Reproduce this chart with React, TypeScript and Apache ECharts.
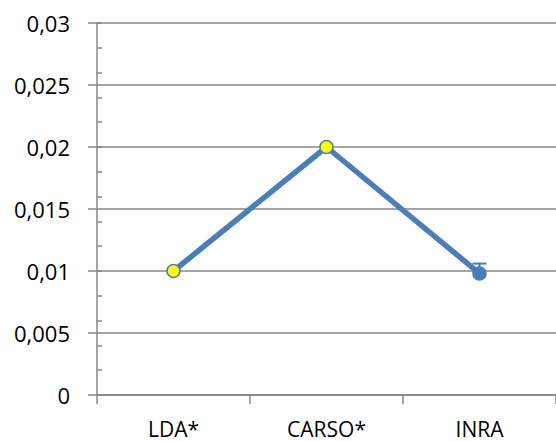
import React, { useEffect, useRef } from "react";
import * as echarts from "echarts";

const categories = ["LDA*", "CARSO*", "INRA"];
const values = [0.01, 0.02, 0.0098];
// upper error bound per lab (null = no error bar)
const upperErrors: (number | null)[] = [null, null, 0.0106];
const markerFills = ["#ffff00", "#ffff00", "#4a7ebb"];

const yMin = 0;
const yMax = 0.03;
const yMajor = 0.005;
const yMinor = 0.002;

const lineColor = "#4a7ebb";
const axisColor = "#878787";
const fontFamily = "'Open Sans', 'Noto Sans', sans-serif";

export default function App() {
  const ref = useRef<HTMLDivElement>(null);

  useEffect(() => {
    document.body.style.margin = "0";
    const chart = echarts.init(ref.current!, undefined, { renderer: "svg" });

    const errorData = upperErrors
      .map((u, i) => (u == null ? null : [i, values[i], u]))
      .filter((d) => d != null);

    chart.setOption({
      animation: false,
      backgroundColor: "#ffffff",
      grid: { left: 97, top: 23, bottom: 46, right: -3, containLabel: false },
      xAxis: {
        type: "category",
        data: categories,
        boundaryGap: true,
        axisLine: { lineStyle: { color: axisColor, width: 1.5 } },
        axisTick: { show: true, length: 9, lineStyle: { color: axisColor, width: 1.5 } },
        axisLabel: { color: "#000", fontSize: 21, lineHeight: 21, fontFamily, margin: 23 },
        splitLine: { show: false },
      },
      yAxis: [
        {
          type: "value",
          min: yMin,
          max: yMax,
          interval: yMajor,
          axisLine: { show: true, lineStyle: { color: axisColor, width: 1.5 } },
          axisTick: { show: true, length: 9, lineStyle: { color: axisColor, width: 1.5 } },
          axisLabel: {
            color: "#000",
            fontSize: 22,
            fontFamily,
            margin: 27,
            formatter: (v: number) => String(parseFloat(v.toFixed(4))).replace(".", ","),
          },
          splitLine: { show: true, lineStyle: { color: axisColor, width: 1.5 } },
        },
        {
          // minor ticks drawn inside the plot along the left axis
          type: "value",
          position: "left",
          min: yMin,
          max: yMax,
          interval: yMinor,
          axisLine: { show: false },
          axisTick: { show: true, inside: true, length: 5, lineStyle: { color: axisColor, width: 1.5 } },
          axisLabel: { show: false },
          splitLine: { show: false },
        },
      ],
      series: [
        {
          type: "custom",
          z: 1,
          data: errorData,
          renderItem: (params: any, api: any) => {
            const c = api.coord([api.value(0), api.value(1)]);
            const t = api.coord([api.value(0), api.value(2)]);
            const half = 7;
            const style = { stroke: lineColor, lineWidth: 2 };
            return {
              type: "group",
              children: [
                { type: "line", shape: { x1: c[0], y1: c[1], x2: t[0], y2: t[1] }, style },
                { type: "line", shape: { x1: t[0] - half, y1: t[1], x2: t[0] + half, y2: t[1] }, style },
              ],
            };
          },
        },
        {
          type: "line",
          z: 3,
          data: values.map((v, i) => ({
            value: v,
            itemStyle: { color: markerFills[i], borderColor: lineColor, borderWidth: 1.5 },
          })),
          symbol: "circle",
          symbolSize: 13,
          lineStyle: { color: lineColor, width: 5.5 },
          itemStyle: { color: "#ffff00", borderColor: lineColor, borderWidth: 1.5 },
        },
      ],
    });

    return () => chart.dispose();
  }, []);

  return <div ref={ref} style={{ width: 556, height: 441 }} />;
}
